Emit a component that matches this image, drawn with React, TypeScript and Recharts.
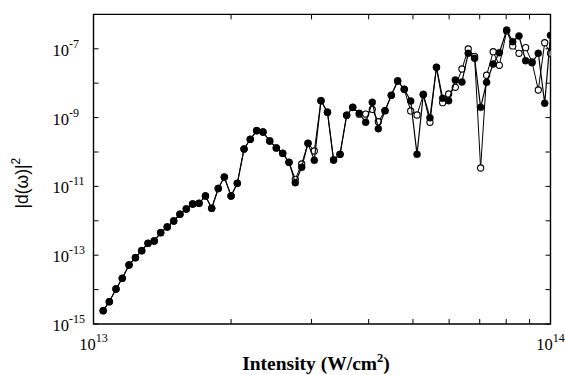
import React from 'react';
import { ScatterChart, Scatter, XAxis, YAxis, ReferenceArea } from 'recharts';

// Laser intensity (W/cm^2)
const intensity: number[] = [
  1.050e13, 1.083e13, 1.120e13, 1.156e13, 1.196e13, 1.235e13, 1.275e13, 1.316e13, 1.358e13, 1.403e13,
  1.450e13, 1.498e13, 1.546e13, 1.596e13, 1.648e13, 1.702e13, 1.758e13, 1.814e13, 1.875e13, 1.933e13,
  2.000e13, 2.064e13, 2.135e13, 2.203e13, 2.276e13, 2.349e13, 2.430e13, 2.512e13, 2.594e13, 2.678e13,
  2.764e13, 2.855e13, 2.947e13, 3.042e13, 3.146e13, 3.251e13, 3.352e13, 3.463e13, 3.581e13, 3.692e13,
  3.816e13, 3.941e13, 4.074e13, 4.200e13, 4.344e13, 4.484e13, 4.630e13, 4.786e13, 4.944e13, 5.104e13,
  5.268e13, 5.448e13, 5.629e13, 5.808e13, 5.986e13, 6.189e13, 6.400e13, 6.607e13, 6.822e13, 7.032e13,
  7.248e13, 7.492e13, 7.727e13, 8.021e13, 8.266e13, 8.531e13, 8.822e13, 9.110e13, 9.404e13, 9.712e13,
  1.000e14,
];

// |d(omega)|^2, filled circles
const dipoleFilled: number[] = [
  2.44e-15, 4.45e-15, 1.04e-14, 2.13e-14, 5.19e-14, 8.45e-14, 1.35e-13, 2.22e-13, 2.59e-13, 4.51e-13,
  6.61e-13, 9.86e-13, 1.55e-12, 2.20e-12, 3.08e-12, 3.23e-12, 5.26e-12, 2.31e-12, 8.69e-12, 1.87e-11,
  5.26e-12, 1.23e-11, 1.22e-10, 2.34e-10, 4.16e-10, 3.81e-10, 2.09e-10, 1.31e-10, 9.16e-11, 5.02e-11,
  1.28e-11, 3.59e-11, 1.79e-10, 5.74e-11, 3.10e-9, 1.43e-9, 5.85e-11, 8.57e-11, 1.17e-9, 1.99e-9,
  1.33e-9, 7.29e-10, 2.79e-9, 4.75e-10, 1.59e-9, 4.45e-9, 1.16e-8, 6.65e-9, 3.04e-9, 8.57e-11,
  4.75e-9, 9.93e-10, 2.90e-8, 3.64e-9, 3.10e-9, 1.24e-8, 1.08e-8, 7.40e-8, 5.30e-8, 1.99e-9,
  1.06e-8, 3.61e-8, 7.71e-8, 3.52e-7, 1.61e-7, 2.36e-7, 4.51e-8, 3.94e-8, 7.40e-8, 2.61e-9,
  2.47e-7,
];

// |d(omega)|^2, open circles
const dipoleOpen: number[] = [
  2.44e-15, 4.45e-15, 1.04e-14, 2.13e-14, 5.19e-14, 8.45e-14, 1.35e-13, 2.22e-13, 2.59e-13, 4.51e-13,
  6.61e-13, 9.86e-13, 1.55e-12, 2.20e-12, 3.08e-12, 3.23e-12, 5.26e-12, 2.31e-12, 8.69e-12, 1.87e-11,
  5.26e-12, 1.23e-11, 1.22e-10, 2.34e-10, 4.16e-10, 3.81e-10, 2.09e-10, 1.31e-10, 9.16e-11, 5.02e-11,
  1.61e-11, 4.48e-11, 1.79e-10, 1.07e-10, 3.10e-9, 1.43e-9, 5.85e-11, 8.57e-11, 1.17e-9, 1.99e-9,
  1.26e-9, 1.27e-9, 1.74e-9, 7.60e-10, 1.59e-9, 4.45e-9, 1.16e-8, 6.65e-9, 1.56e-9, 1.19e-9,
  4.60e-9, 7.29e-10, 2.90e-8, 2.71e-9, 4.85e-9, 7.60e-9, 2.59e-8, 9.86e-8, 6.03e-8, 3.43e-11,
  1.70e-8, 8.24e-8, 3.31e-8, 3.31e-7, 1.21e-7, 7.40e-8, 1.08e-7, 4.17e-8, 6.34e-9, 1.50e-7,
  7.40e-8,
];

const xTicks: number[] = [1e13, 2e13, 3e13, 4e13, 5e13, 6e13, 7e13, 8e13, 9e13, 1e14];
const yTicks: number[] = [1e-15, 1e-14, 1e-13, 1e-12, 1e-11, 1e-10, 1e-9, 1e-8, 1e-7];

const filledData = intensity.map((x, i) => ({ x, y: dipoleFilled[i] }));
const openData = intensity.map((x, i) => ({ x, y: dipoleOpen[i] }));

const W = 565;
const H = 375;
const MARGIN = { top: 14.4, right: 14.5, bottom: 0, left: 0 };
const Y_AXIS_W = 93.5;
const X_AXIS_H = 51;
const PLOT_W = W - MARGIN.left - MARGIN.right - Y_AXIS_W;
const PLOT_H = H - MARGIN.top - MARGIN.bottom - X_AXIS_H;
const TICK = 5;
const SERIF = '"Liberation Serif", "Times New Roman", serif';
const SANS = '"Liberation Sans", Arial, sans-serif';

function XTick(props: any) {
  const { x, y, payload } = props;
  const e = Math.log10(payload.value);
  const isDecade = Math.abs(e - Math.round(e)) < 1e-6;
  return (
    <g>
      <line x1={x} y1={y} x2={x} y2={y - TICK} stroke="#000" strokeWidth={1} />
      <line x1={x} y1={y - PLOT_H} x2={x} y2={y - PLOT_H + TICK} stroke="#000" strokeWidth={1} />
      {isDecade && (
        <text x={x} y={y + 25.5} textAnchor="middle" fontFamily={SERIF} fontSize={16.5} fill="#000">
          10
          <tspan fontSize={12} dy={-8}>{String(Math.round(e))}</tspan>
        </text>
      )}
    </g>
  );
}

function YTick(props: any) {
  const { x, y, payload } = props;
  const e = Math.round(Math.log10(payload.value));
  const labeled = Math.abs(e) % 2 === 1;
  return (
    <g>
      <line x1={x} y1={y} x2={x + TICK} y2={y} stroke="#000" strokeWidth={1} />
      <line x1={x + PLOT_W} y1={y} x2={x + PLOT_W - TICK} y2={y} stroke="#000" strokeWidth={1} />
      {labeled && (
        <text x={x - 41} y={y + 7} textAnchor="start" fontFamily={SERIF} fontSize={16.5} fill="#000">
          10
          <tspan fontSize={12} dy={-8}>{'-' + String(-e)}</tspan>
        </text>
      )}
    </g>
  );
}

function XTitle(props: any) {
  const vb = props.viewBox || { x: 93.5, y: 324, width: 457, height: 51 };
  return (
    <text
      x={vb.x + vb.width / 2 - 6}
      y={vb.y + 46}
      textAnchor="middle"
      fontFamily={SERIF}
      fontWeight="bold"
      fontSize={19.5}
      fill="#000"
    >
      Intensity (W/cm
      <tspan fontSize={12.5} dy={-8}>2</tspan>
      <tspan dy={8}>)</tspan>
    </text>
  );
}

function YTitle(props: any) {
  const vb = props.viewBox || { x: 0, y: 14.4, width: 93.5, height: 309.6 };
  const cx = vb.x + 28;
  const cy = vb.y + vb.height * 0.545;
  return (
    <text
      x={cx}
      y={cy}
      transform={`rotate(-90 ${cx} ${cy})`}
      textAnchor="middle"
      fontFamily={SANS}
      fontSize={17.5}
      fill="#000"
    >
      |d(ω)|
      <tspan fontSize={12} dy={-8}>2</tspan>
    </text>
  );
}

const FilledDot = (p: any) => <circle cx={p.cx} cy={p.cy} r={3.5} fill="#000" stroke="#000" strokeWidth={0.5} />;
const OpenDot = (p: any) => <circle cx={p.cx} cy={p.cy} r={3.1} fill="#fff" stroke="#000" strokeWidth={1.1} />;

export default function App() {
  return (
    <div style={{ position: 'absolute', left: 0, top: 0, background: '#fff' }}>
      <ScatterChart width={W} height={H} margin={MARGIN}>
        <XAxis
          type="number"
          dataKey="x"
          scale="log"
          domain={[1e13, 1e14]}
          ticks={xTicks}
          interval={0}
          allowDataOverflow
          axisLine={false}
          tickLine={false}
          tickSize={0}
          tickMargin={0}
          height={X_AXIS_H}
          tick={(p: any) => <XTick {...p} />}
          label={(p: any) => <XTitle {...p} />}
        />
        <YAxis
          type="number"
          dataKey="y"
          scale="log"
          domain={[1e-15, 1e-6]}
          ticks={yTicks}
          interval={0}
          allowDataOverflow
          axisLine={false}
          tickLine={false}
          tickSize={0}
          tickMargin={0}
          width={Y_AXIS_W}
          tick={(p: any) => <YTick {...p} />}
          label={(p: any) => <YTitle {...p} />}
        />
        <ReferenceArea x1={1e13} x2={1e14} y1={1e-15} y2={1e-6} fill="none" stroke="#000" strokeWidth={1.4} />
        <Scatter
          data={openData}
          line={{ stroke: '#000', strokeWidth: 1 }}
          lineType="joint"
          shape={OpenDot}
          isAnimationActive={false}
        />
        <Scatter
          data={filledData}
          line={{ stroke: '#000', strokeWidth: 1.2 }}
          lineType="joint"
          shape={FilledDot}
          isAnimationActive={false}
        />
      </ScatterChart>
    </div>
  );
}
